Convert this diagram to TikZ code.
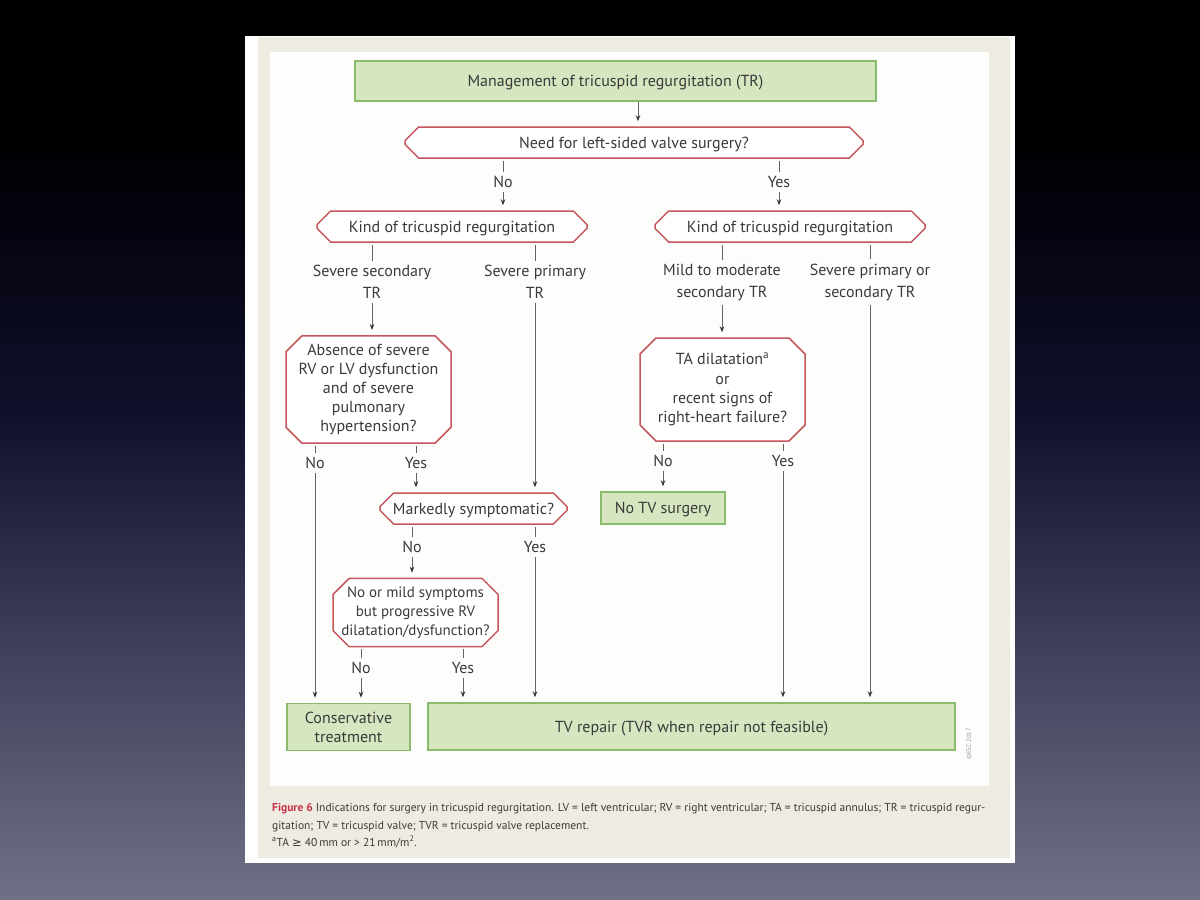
\documentclass[tikz,border=0pt]{standalone}
\usepackage{fontspec}
\setmainfont{PT Sans}
\newfontfamily\djfont{DejaVu Sans}
\usetikzlibrary{shapes.misc,arrows.meta}
\definecolor{bgbot}{RGB}{112,112,134}
\definecolor{bgm1}{RGB}{60,60,90}
\definecolor{bgm2}{RGB}{16,16,44}
\definecolor{bgdark}{RGB}{4,4,16}
\definecolor{pagebeige}{RGB}{238,236,226}
\definecolor{innerwhite}{RGB}{253,253,251}
\definecolor{gfill}{RGB}{213,230,192}
\definecolor{gline}{RGB}{138,186,108}
\definecolor{rline}{RGB}{196,86,94}
\definecolor{txt}{RGB}{58,58,58}
\definecolor{lncol}{RGB}{100,100,100}
\definecolor{figred}{RGB}{200,48,74}
\pgfdeclareverticalshading{slidebg}{100bp}{color(0bp)=(bgbot); color(25bp)=(bgbot); color(40bp)=(bgm1); color(52bp)=(bgm2); color(62bp)=(bgdark); color(68bp)=(black); color(100bp)=(black)}
\tikzset{
  boxfont/.style={font=\fontsize{16}{19.2}\selectfont},
  oneline/.style={text height=11.2pt, text depth=0pt},
  greenbox/.style={draw=gline, fill=gfill, line width=1.5pt, inner sep=0pt, align=center, text=txt, boxfont},
  redbox/.style={chamfered rectangle, chamfered rectangle xsep=8pt, chamfered rectangle ysep=8pt, draw=rline, fill=white, line width=1.5pt, inner sep=0pt, align=center, text=txt, boxfont},
  lbl/.style={align=center, text=txt, inner sep=4pt, font=\fontsize{16}{22}\selectfont},
  ln/.style={draw=lncol, line width=0.9pt, shorten <=2pt},
  arr/.style={draw=lncol, line width=0.9pt, -{Stealth[length=6pt,width=4.5pt,color=black!80]}, shorten >=5pt},
  captext/.style={anchor=base west, inner sep=0pt, text=txt, font=\fontsize{11.5}{13}\selectfont}
}
\begin{document}
\begin{tikzpicture}[x=1pt,y=-1pt]
\useasboundingbox (0,0) rectangle (1200,900);
\shade[shading=slidebg] (0,0) rectangle (1200,900);
\fill[white] (245,36) rectangle (1015,863);
\fill[pagebeige] (258,37) rectangle (1010,858);
\fill[innerwhite] (270,52) rectangle (989,786);

\node[greenbox, oneline, minimum width=521pt, minimum height=40pt] (mgmt) at (615.5,81) {Management of tricuspid regurgitation (TR)};
\node[redbox, oneline, minimum width=458pt, minimum height=31pt] (need) at (634,142.5) {Need for left-sided valve surgery?};
\coordinate (mgx) at ([xshift=4pt]need.north);
\node[lbl] (noA) at (503,182) {No};
\node[lbl] (yesA) at (779,182) {Yes};
\node[redbox, oneline, minimum width=270pt, minimum height=31pt] (kindL) at (452,226.5) {Kind of tricuspid regurgitation};
\node[redbox, oneline, minimum width=270pt, minimum height=31pt] (kindR) at (790,226.5) {Kind of tricuspid regurgitation};
\node[lbl] (secL) at (372,282) {Severe secondary\\TR};
\node[lbl] (priL) at (535,282) {Severe primary\\TR};
\node[lbl] (mildR) at (722,282) {Mild to moderate\\secondary TR};
\node[lbl] (sevR) at (870,282) {Severe primary or\\secondary TR};
\node[redbox, inner xsep=-6pt, minimum width=165pt, minimum height=103pt] (abs) at (368.5,389.5) {Absence of severe\\RV or LV dysfunction\\and of severe\\pulmonary\\hypertension?};
\node[redbox, inner xsep=-6pt, minimum width=165pt, minimum height=103pt] (ta) at (722.5,389.5) {TA dilatation\textsuperscript{a}\\or\\recent signs of\\right-heart failure?};
\node[lbl] (noB) at (315,463) {No};
\node[lbl] (yesB) at (416,463) {Yes};
\node[lbl] (noC) at (663,461) {No};
\node[lbl] (yesC) at (783,461) {Yes};
\node[redbox, oneline, minimum width=187pt, minimum height=31pt] (mark) at (473.5,508.5) {Markedly symptomatic?};
\node[greenbox, oneline, minimum width=124pt, minimum height=32pt] (notv) at (663,508) {No TV surgery};
\node[lbl] (noD) at (412,547) {No};
\node[lbl] (yesD) at (535,547) {Yes};
\node[redbox, inner xsep=-6pt, minimum width=165pt, minimum height=68pt, font=\fontsize{15}{19.2}\selectfont] (mild) at (415.5,612.5) {No or mild symptoms\\but progressive RV\\dilatation/dysfunction?};
\node[lbl] (noE) at (361,668) {No};
\node[lbl] (yesE) at (463,668) {Yes};
\node[greenbox, minimum width=123pt, minimum height=47pt] (cons) at (348.5,727) {Conservative\\treatment};
\node[greenbox, oneline, minimum width=527pt, minimum height=47pt] (tvr) at (691.5,726.5) {TV repair (TVR when repair not feasible)};
\node[rotate=90, text=black!40, inner sep=0pt, font=\fontsize{6.5}{7}\selectfont] (esc) at (969,744) {\textcopyright ESC 2017};

\draw[arr] (mgmt.south -| mgx) -- (mgx);
\foreach \s/\l/\t in {need/noA/kindL, need/yesA/kindR, kindL/secL/abs, kindL/priL/mark, kindR/mildR/ta, kindR/sevR/tvr, abs/noB/cons, abs/yesB/mark, ta/noC/notv, ta/yesC/tvr, mark/noD/mild, mark/yesD/tvr, mild/noE/cons, mild/yesE/tvr}{
  \draw[ln] (\s.south -| \l) -- (\l.north);
  \draw[arr] (\l.south) -- (\t.north -| \l);
}

\node[captext] (cap1) at (272,811) {\textcolor{figred}{\bfseries Figure 6} Indications for surgery in tricuspid regurgitation. LV = left ventricular; RV = right ventricular; TA = tricuspid annulus; TR = tricuspid regur-};
\node[captext] (cap2) at (272,829) {gitation; TV = tricuspid valve; TVR = tricuspid valve replacement.};
\node[captext] (cap3) at (272,846) {\textsuperscript{a}TA {\djfont ≥} 40\,mm or > 21\,mm/m\textsuperscript{2}.};
\end{tikzpicture}
\end{document}
